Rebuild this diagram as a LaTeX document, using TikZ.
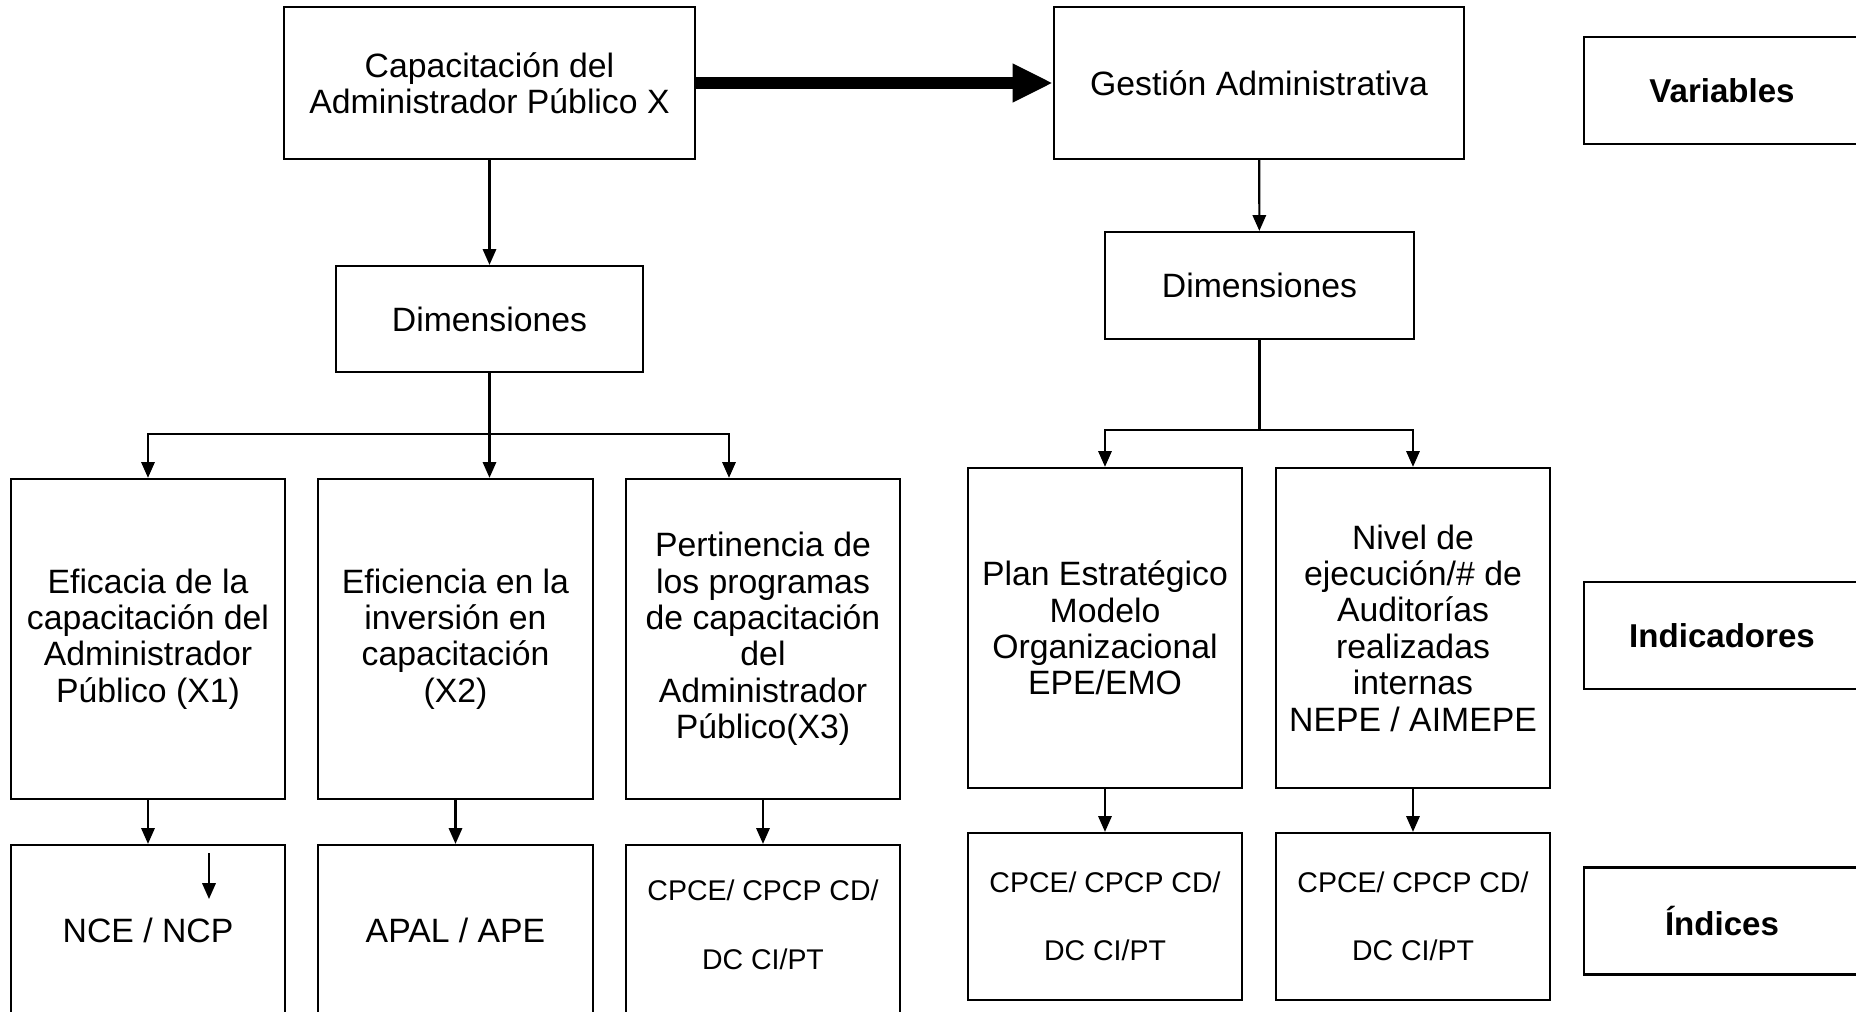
\documentclass[tikz,border=0pt]{standalone}
\usepackage{fontspec}
\setmainfont{Liberation Sans}
\usetikzlibrary{arrows.meta, positioning}
\tikzstyle{caja}=[draw,line width=0.6pt,rectangle,align=center,inner sep=2pt,font=\fontsize{9.6}{10.35}\selectfont]
\tikzstyle{dim}=[caja,minimum width=4.1cm,minimum height=1.52cm]
\tikzstyle{ind}=[caja,minimum width=2.74cm,minimum height=3.2cm]
\tikzstyle{idx}=[caja,minimum width=2.74cm,font=\fontsize{8.1}{19.4}\selectfont]
\tikzstyle{lado}=[caja,minimum width=2.76cm,minimum height=1.07cm,font=\fontsize{9.4}{10.5}\selectfont\bfseries]
\tikzstyle{flecha}=[line width=0.6pt,-{Triangle[length=4.5pt,width=3.8pt]}]
\tikzstyle{gruesa}=[line width=3.4pt,-{Triangle[length=11.4pt,width=10.2pt]}]

\begin{document}
\begin{tikzpicture}[x=0.01cm,y=-0.01cm]
    \useasboundingbox (0,0) rectangle (1856,1012);
    \clip (0,0) rectangle (1856,1012);
    \node[dim] (cap) at (489.5,83) {Capacitaci\'on del\\Administrador P\'ublico X};
    \node[dim] (ges) at (1259,83) {Gesti\'on Administrativa};
    \node[lado] (var) at (1722,90.5) {Variables};
    \node[lado] (indic) at (1722,635.5) {Indicadores};
    \node[lado] (indx) at (1722,921) {\'Indices};
    \node[caja,minimum width=3.07cm,minimum height=1.06cm] (dimx) at (489.5,319) {Dimensiones};
    \node[caja,minimum width=3.09cm,minimum height=1.07cm] (dimy) at (1259.5,285.5) {Dimensiones};
    \draw[gruesa] (cap) -- (ges);
    \draw[flecha] (cap) -- (dimx);
    \draw[flecha] (ges) -- (dimy);
    \foreach \n/\x/\t in {x1/148/{Eficacia de la\\capacitaci\'on del\\Administrador\\P\'ublico (X1)},
                          x2/455.5/{Eficiencia en la\\inversi\'on en\\capacitaci\'on\\(X2)},
                          x3/763/{Pertinencia de\\los programas\\de capacitaci\'on\\del\\Administrador\\P\'ublico(X3)}}
        \node[ind] (\n) at (\x,639) {\t};
    \foreach \n/\x/\t in {y1/1105/{Plan Estrat\'egico\\Modelo\\Organizacional\\EPE/EMO},
                          y2/1413/{Nivel de\\ejecuci\'on/\# de\\Auditor\'ias\\realizadas\\internas\\NEPE / AIMEPE}}
        \node[ind] (\n) at (\x,628) {\t};
    \node[caja,minimum width=2.74cm,minimum height=1.7cm] (nx1) at (148,930) {NCE / NCP};
    \node[caja,minimum width=2.74cm,minimum height=1.7cm] (nx2) at (455.5,930) {APAL / APE};
    \node[idx,minimum height=1.7cm] (nx3) at (763,930) {\raisebox{3pt}{CPCE/ CPCP CD/}\\\raisebox{3pt}{DC CI/PT}};
    \node[idx,minimum height=1.67cm] (ny1) at (1105,916.5) {CPCE/ CPCP CD/\\DC CI/PT};
    \node[idx,minimum height=1.67cm] (ny2) at (1413,916.5) {CPCE/ CPCP CD/\\DC CI/PT};
    \coordinate (rx) at (489.5,434);
    \coordinate (ry) at (1259.5,430);
    \coordinate (rz) at (729,434);
    \draw[line width=0.6pt] (dimx) -- (rx);
    \draw[line width=0.6pt] (dimy) -- (ry);
    \draw[flecha] (rx) -| (x1.north);
    \draw[flecha] (rx) -- (rz) -- (rz |- x3.north);
    \draw[flecha] (rx) -- (rx |- x2.north);
    \draw[flecha] (ry) -| (y1.north);
    \draw[flecha] (ry) -| (y2.north);
    \foreach \a/\b in {x1/nx1, x2/nx2, x3/nx3, y1/ny1, y2/ny2}
        \draw[flecha] (\a) -- (\b);
    \coordinate (s1) at (209,853);
    \coordinate (s2) at (209,899);
    \draw[flecha] (s1) -- (s2);
\end{tikzpicture}
\end{document}
